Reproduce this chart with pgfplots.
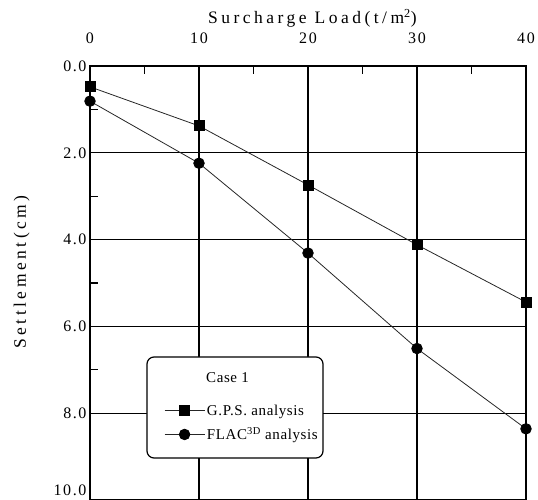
\documentclass[border=0pt]{standalone}
\usepackage{fontspec}
\setmainfont{Liberation Serif}
\newfontfamily\lblfont[LetterSpace=20]{Liberation Serif}
\newfontfamily\tickfont[LetterSpace=10]{Liberation Serif}
\newfontfamily\legfont[LetterSpace=4]{Liberation Serif}
\usepackage{pgfplots}
\pgfplotsset{compat=1.18}
\begin{document}
\begin{tikzpicture}
\begin{axis}[
  scale only axis, width=436pt, height=434pt,
  at={(0,0)}, anchor=south west,
  xmin=0, xmax=40, ymin=0, ymax=10, y dir=reverse,
  xtick={0,10,20,30,40}, ytick={0,2,4,6,8},
  extra y ticks={10},
  extra y tick style={yticklabel style={anchor=south east, yshift=1pt}},
  minor x tick num=1, minor y tick num=1,
  xtick pos=upper, ytick pos=left, xticklabel pos=upper,
  tick align=inside, major tick length=0pt, minor tick length=8pt,
  grid=major, major grid style={black, line width=1.1pt},
  axis line style={line width=2pt},
  every minor tick/.append style={line width=1.3pt, black},
  /pgf/number format/assume math mode=true,
  yticklabel style={/pgf/number format/fixed, /pgf/number format/fixed zerofill, /pgf/number format/precision=1},
  xticklabel style={yshift=19pt, /pgf/number format/fixed, /pgf/number format/precision=0},
  ticklabel style={font=\tickfont\fontsize{16}{16}\selectfont},
  xlabel={Surcharge Load(t/m\textsuperscript{2})},
  ylabel={Settlement(cm)},
  label style={font=\lblfont\fontsize{17.5}{17.5}\selectfont},
  xlabel style={at={(axis description cs:0.51,1)}, anchor=base, yshift=42pt},
  ylabel style={at={(axis description cs:-0.157,0.525)}, anchor=center},
  legend style={at={(axis description cs:0.1697,0.1774)}, anchor=west,
    draw=none, fill=none, inner sep=0pt,
    font=\legfont\fontsize{15}{15}\selectfont, row sep=7pt},
  legend cell align=left,
  legend image code/.code={\draw[#1, mark repeat=2, mark phase=2] plot coordinates {(0pt,0pt) (20pt,0pt) (40pt,0pt)};},
]
\draw[black, line width=1.2pt, rounded corners=7pt, fill=white]
  (axis description cs:0.1307,0.3295) rectangle (axis description cs:0.5344,0.0968);
\node[anchor=west, font=\legfont\fontsize{15}{15}\selectfont, inner sep=0pt]
  at (axis description cs:0.266,0.2811) {Case 1};
\addplot[black!85, line width=0.8pt, mark=square*, mark size=5pt, mark options={solid, fill=black, draw=black}]
  coordinates {(0,0.48) (10,1.38) (20,2.74) (30,4.12) (40,5.44)};
\addlegendentry{G.P.S. analysis}
\addplot[black!85, line width=0.8pt, mark=*, mark size=5.3pt, mark options={solid, fill=black, draw=black}]
  coordinates {(0,0.81) (10,2.24) (20,4.31) (30,6.51) (40,8.36)};
\addlegendentry{FLAC\textsuperscript{3D} analysis}
\end{axis}
\pgfresetboundingbox
\path[use as bounding box] (-90pt,0pt) rectangle (448pt,500pt);
\end{tikzpicture}
\end{document}
